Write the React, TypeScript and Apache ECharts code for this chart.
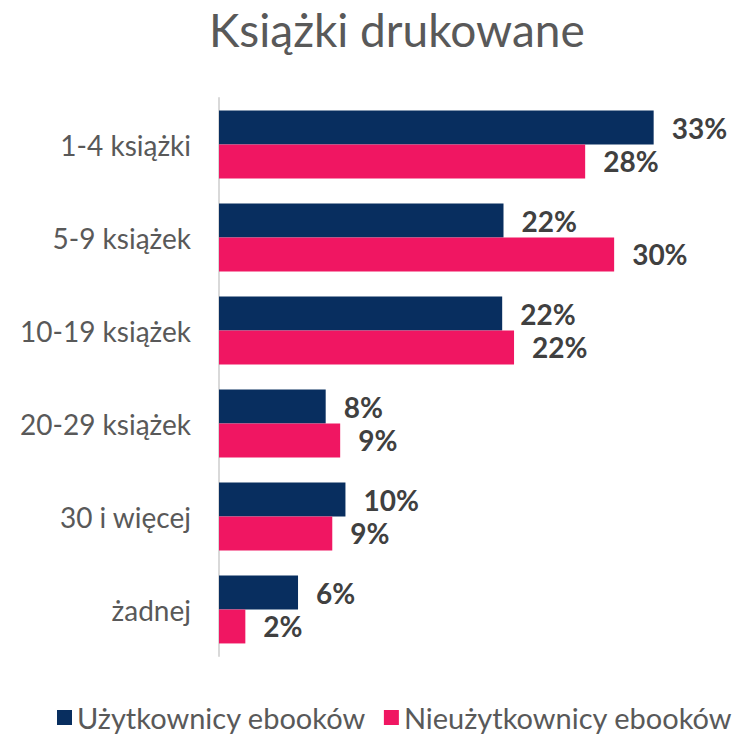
import React, { useEffect, useRef } from "react";
import * as echarts from "echarts";

const categories = ["1-4 książki", "5-9 książek", "10-19 książek", "20-29 książek", "30 i więcej", "żadnej"];
const users = [33.0, 21.6, 21.5, 8.1, 9.6, 6.0];
const nonUsers = [27.8, 30.0, 22.4, 9.2, 8.6, 2.0];
const seriesNames = ["Użytkownicy ebooków", "Nieużytkownicy ebooków"];
const title = "Książki drukowane";

const FONT = "Lato, 'Noto Sans', sans-serif";
const TEXT = "#595959";

export default function App() {
  const ref = useRef<HTMLDivElement>(null);
  useEffect(() => {
    const chart = echarts.init(ref.current!, null, { renderer: "svg" });
    const label = {
      show: true,
      position: "right",
      distance: 18,
      fontFamily: FONT,
      fontWeight: "bold",
      fontSize: 28,
      color: "#404040",
      formatter: (p: any) => Math.round(p.value) + "%",
    };
    chart.setOption({
      animation: false,
      backgroundColor: "#ffffff",
      title: {
        text: title,
        left: 204,
        top: 1,
        textStyle: { fontFamily: FONT, fontSize: 46, fontWeight: "normal", color: TEXT },
      },
      legend: {
        bottom: 0,
        left: 52,
        itemWidth: 15,
        itemHeight: 15,
        itemGap: 18,
        icon: "rect",
        textStyle: { fontFamily: FONT, fontSize: 29, color: TEXT },
        data: seriesNames,
      },
      grid: { left: 219, right: 64, top: 98, height: 558 },
      xAxis: {
        type: "value",
        min: 0,
        max: 35,
        show: false,
      },
      yAxis: {
        type: "category",
        inverse: true,
        data: categories,
        axisLine: { show: true, lineStyle: { color: "#d9d9d9", width: 2 } },
        axisTick: { show: false },
        axisLabel: { fontFamily: FONT, fontSize: 28, color: TEXT, margin: 28 },
      },
      series: [
        {
          name: seriesNames[0],
          type: "bar",
          data: users,
          itemStyle: { color: "#082E5F" },
          barGap: "0%",
          barCategoryGap: "27%",
          label,
        },
        {
          name: seriesNames[1],
          type: "bar",
          data: nonUsers,
          itemStyle: { color: "#F01662" },
          barGap: "0%",
          barCategoryGap: "27%",
          label,
        },
      ],
    });
    return () => chart.dispose();
  }, []);
  return <div ref={ref} style={{ position: "fixed", left: 0, top: 0, width: 744, height: 737 }} />;
}
